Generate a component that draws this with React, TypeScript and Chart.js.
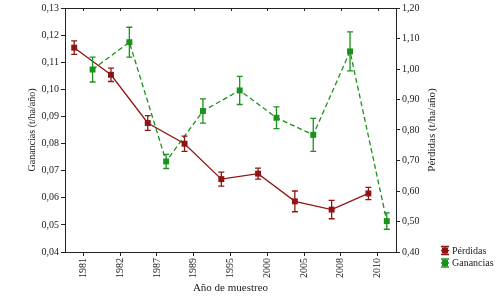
import React, { useEffect, useRef } from 'react';
import { Chart, registerables } from 'chart.js';
Chart.register(...registerables);

const years = ['1981', '1982', '1987', '1989', '1995', '2000', '2005', '2008', '2010'];
const perdidas = [1.07, 0.981, 0.823, 0.755, 0.639, 0.657, 0.566, 0.539, 0.592];
const perdidasErr = [0.022, 0.022, 0.024, 0.025, 0.023, 0.018, 0.034, 0.030, 0.020];
const ganancias = [0.1073, 0.1174, 0.0734, 0.092, 0.0996, 0.0895, 0.0832, 0.114, 0.0514];
const gananciasErr = [0.0046, 0.0055, 0.0026, 0.0045, 0.0052, 0.004, 0.0061, 0.0072, 0.003];
const leftTicks = [0.04, 0.05, 0.06, 0.07, 0.08, 0.09, 0.1, 0.11, 0.12, 0.13];
const rightTicks = [0.4, 0.5, 0.6, 0.7, 0.8, 0.9, 1.0, 1.1, 1.2];

const RED = '#8f1515';
const GREEN = '#1b931b';
const AXIS = '#222';
const FONT = '"Liberation Serif", "Times New Roman", serif';
const SHIFT = 0.25;

const fmt = (v: number) => v.toFixed(2).replace('.', ',');

const App = () => {
  const ref = useRef<HTMLCanvasElement>(null);
  useEffect(() => {
    if (!ref.current) return;
    const errors = [perdidasErr, gananciasErr];

    const errPlugin = {
      id: 'errbars',
      afterDatasetsDraw(chart: any) {
        const ctx = chart.ctx;
        chart.data.datasets.forEach((ds: any, di: number) => {
          const meta = chart.getDatasetMeta(di);
          const ys = chart.scales[ds.yAxisID];
          const errs = errors[di];
          ctx.save();
          ctx.strokeStyle = ds.borderColor;
          ctx.lineWidth = 1.3;
          ds.data.forEach((p: any, i: number) => {
            const x = meta.data[i].x;
            const y1 = ys.getPixelForValue(p.y + errs[i]);
            const y2 = ys.getPixelForValue(p.y - errs[i]);
            ctx.beginPath();
            ctx.moveTo(x, y1); ctx.lineTo(x, y2);
            ctx.moveTo(x - 3, y1); ctx.lineTo(x + 3, y1);
            ctx.moveTo(x - 3, y2); ctx.lineTo(x + 3, y2);
            ctx.stroke();
          });
          ctx.restore();
        });
      },
    };

    const decorPlugin = {
      id: 'decor',
      afterDraw(chart: any) {
        const ctx = chart.ctx;
        const a = chart.chartArea;
        ctx.save();
        ctx.strokeStyle = AXIS;
        ctx.lineWidth = 1;
        ctx.strokeRect(Math.round(a.left) + 0.5, Math.round(a.top) + 0.5, Math.round(a.right - a.left), Math.round(a.bottom - a.top));
        const xs = chart.scales.x;
        years.forEach((_, i) => {
          const px = Math.round(xs.getPixelForValue(i)) + 0.5;
          ctx.beginPath();
          ctx.moveTo(px, a.top);
          ctx.lineTo(px, a.top + 3);
          ctx.stroke();
        });
        const cy = (a.top + a.bottom) / 2;
        ctx.fillStyle = '#222';
        ctx.textAlign = 'center';
        ctx.textBaseline = 'middle';
        ctx.font = `10px ${FONT}`;
        ctx.save();
        ctx.translate(32, cy);
        ctx.rotate(-Math.PI / 2);
        ctx.fillText('Ganancias (t/ha/año)', 0, 0);
        ctx.restore();
        ctx.font = `11px ${FONT}`;
        ctx.save();
        ctx.translate(432, cy);
        ctx.rotate(-Math.PI / 2);
        ctx.fillText('Pérdidas (t/ha/año)', 0, 0);
        ctx.restore();
        ctx.font = `11px ${FONT}`;
        ctx.fillText('Año de muestreo', (a.left + a.right) / 2, 288);
        // legend
        const items = [
          { label: 'Pérdidas', color: RED, y: 250.5 },
          { label: 'Ganancias', color: GREEN, y: 263 },
        ];
        ctx.font = `10px ${FONT}`;
        ctx.textAlign = 'left';
        items.forEach((it) => {
          const sx = 445;
          ctx.strokeStyle = it.color;
          ctx.fillStyle = it.color;
          ctx.lineWidth = 1.3;
          ctx.beginPath();
          ctx.moveTo(sx, it.y - 4); ctx.lineTo(sx, it.y + 4);
          ctx.moveTo(sx - 4, it.y - 4); ctx.lineTo(sx + 4, it.y - 4);
          ctx.moveTo(sx - 4, it.y + 4); ctx.lineTo(sx + 4, it.y + 4);
          ctx.moveTo(sx - 4, it.y); ctx.lineTo(sx + 4, it.y);
          ctx.stroke();
          ctx.fillRect(sx - 3, it.y - 3, 6, 6);
          ctx.fillStyle = '#222';
          ctx.fillText(it.label, 452, it.y + 0.5);
        });
        ctx.restore();
      },
    };

    const tickFont = { family: FONT, size: 10 };
    const chart = new Chart(ref.current, {
      type: 'line',
      data: {
        datasets: [
          {
            label: 'Pérdidas',
            data: perdidas.map((v, i) => ({ x: i - SHIFT, y: v })),
            yAxisID: 'y1',
            borderColor: RED,
            backgroundColor: RED,
            borderWidth: 1.3,
            pointStyle: 'rect',
            pointRadius: 4.2,
            pointBorderWidth: 0,
            tension: 0,
          },
          {
            label: 'Ganancias',
            data: ganancias.map((v, i) => ({ x: i + SHIFT, y: v })),
            yAxisID: 'y',
            borderColor: GREEN,
            backgroundColor: GREEN,
            borderWidth: 1.3,
            borderDash: [5, 3],
            pointStyle: 'rect',
            pointRadius: 4.2,
            pointBorderWidth: 0,
            tension: 0,
          },
        ],
      },
      options: {
        responsive: false,
        animation: false,
        layout: { padding: { top: 6, left: 0, right: 0, bottom: 0 } },
        plugins: { legend: { display: false }, tooltip: { enabled: false } },
        scales: {
          x: {
            type: 'linear',
            min: -0.5,
            max: 8.5,
            afterBuildTicks: (s: any) => { s.ticks = years.map((_, i) => ({ value: i })); },
            afterFit: (s: any) => { s.height = 46; },
            ticks: {
              font: tickFont,
              color: '#222',
              minRotation: 90,
              maxRotation: 90,
              padding: 2,
              callback: (v: any) => years[Math.round(v)] ?? '',
            },
            grid: { drawOnChartArea: false, tickLength: 4, color: AXIS },
            border: { color: AXIS },
          },
          y: {
            position: 'left',
            min: 0.04,
            max: 0.13,
            afterBuildTicks: (s: any) => { s.ticks = leftTicks.map((v) => ({ value: v })); },
            afterFit: (s: any) => { s.width = 65; },
            ticks: { font: tickFont, color: '#222', padding: 2, callback: (v: any) => fmt(Number(v)) },
            grid: { drawOnChartArea: false, tickLength: 4, color: AXIS },
            border: { color: AXIS },
          },
          y1: {
            position: 'right',
            min: 0.4,
            max: 1.2,
            afterBuildTicks: (s: any) => { s.ticks = rightTicks.map((v) => ({ value: v })); },
            afterFit: (s: any) => { s.width = 104; },
            ticks: { font: tickFont, color: '#222', padding: 2, callback: (v: any) => fmt(Number(v)) },
            grid: { drawOnChartArea: false, tickLength: 4, color: AXIS },
            border: { color: AXIS },
          },
        },
      },
      plugins: [errPlugin, decorPlugin],
    } as any);
    return () => chart.destroy();
  }, []);

  return (
    <div style={{ position: 'fixed', left: 0, top: 0, width: 500, height: 298, background: '#fff' }}>
      <canvas ref={ref} width={500} height={298} style={{ width: 500, height: 298, display: 'block' }} />
    </div>
  );
};

export default App;
